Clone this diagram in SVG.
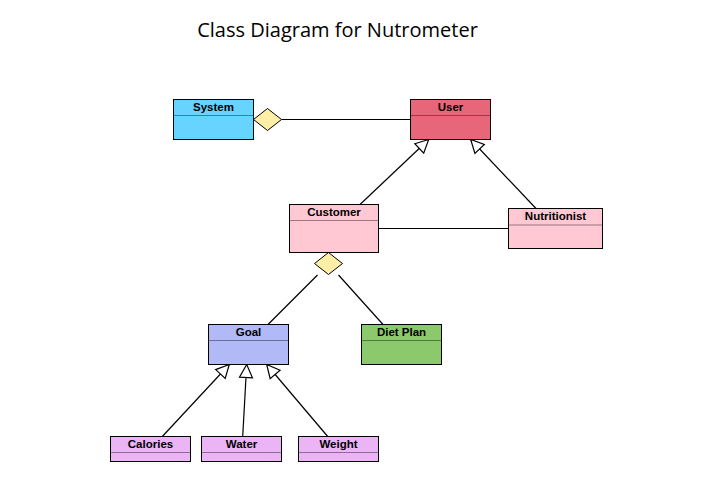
<svg xmlns="http://www.w3.org/2000/svg" width="706" height="477" viewBox="0 0 706 477">
<style>
.box{stroke:#000;stroke-width:1}
.name{font-family:"Liberation Sans",Arial,sans-serif;font-weight:bold;font-size:11.5px;text-anchor:middle;fill:#000}
.title{font-family:"Open Sans",sans-serif;font-size:20px;text-anchor:middle;fill:#000}
.conn line{stroke:#000;stroke-width:1.2;fill:none}
.gen{marker-end:url(#tri)}
.dia{fill:#FFEFA6;stroke:#000;stroke-width:1}
</style>
<defs>
<marker id="tri" markerUnits="userSpaceOnUse" markerWidth="16" markerHeight="16" viewBox="-14 -8 16 16" refX="0" refY="0" orient="auto">
<path d="M0,0 L-13,-6.5 L-13,6.5 Z" fill="#fff" stroke="#000" stroke-width="1.2"/>
</marker>
</defs>
<rect width="706" height="477" fill="#fff"/>
<text class="title" x="337.5" y="36.5">Class Diagram for Nutrometer</text>
<g id="connectors" class="conn">
<line x1="281.5" y1="119.5" x2="410.5" y2="119.5"/>
<line class="gen" x1="360" y1="204.5" x2="428.7" y2="139.5"/>
<line class="gen" x1="536" y1="208.5" x2="470.7" y2="139.5"/>
<line x1="378.5" y1="228.5" x2="508.5" y2="228.5"/>
<line x1="317.5" y1="275" x2="268" y2="324.5"/>
<line x1="338.5" y1="275" x2="383" y2="324.5"/>
<line class="gen" x1="162.3" y1="436.5" x2="229.3" y2="364.5"/>
<line class="gen" x1="242.7" y1="436.5" x2="246.7" y2="364.5"/>
<line class="gen" x1="327.7" y1="436.5" x2="266.7" y2="364.5"/>
<polygon class="dia" points="253.5,119.5 267.5,108.5 281.5,119.5 267.5,130.5"/>
<polygon class="dia" points="314.5,263.5 328.5,252.5 342.5,263.5 328.5,274.5"/>
</g>
<g id="System">
<rect class="box" x="173.5" y="99.5" width="80" height="40" fill="#66D4FF"/>
<line x1="174" y1="115.5" x2="253" y2="115.5" stroke="#3F7F99" stroke-width="1"/>
<text class="name" x="213.5" y="111">System</text>
</g>
<g id="User">
<rect class="box" x="410.5" y="99.5" width="80" height="40" fill="#E8667A"/>
<line x1="411" y1="115.5" x2="490" y2="115.5" stroke="#8C3D49" stroke-width="1"/>
<text class="name" x="450.5" y="111">User</text>
</g>
<g id="Customer">
<rect class="box" x="289.5" y="204.5" width="89" height="48" fill="#FFC8D3"/>
<line x1="290" y1="220.5" x2="378" y2="220.5" stroke="#99787E" stroke-width="1"/>
<text class="name" x="334" y="216">Customer</text>
</g>
<g id="Nutritionist">
<rect class="box" x="508.5" y="208.5" width="94" height="40" fill="#FFC8D3"/>
<line x1="509" y1="225" x2="602" y2="225" stroke="#99787E" stroke-width="1"/>
<text class="name" x="555.5" y="219.5">Nutritionist</text>
</g>
<g id="Goal">
<rect class="box" x="208.5" y="324.5" width="80" height="40" fill="#B1B9F7"/>
<line x1="209" y1="340.5" x2="288" y2="340.5" stroke="#6A6F94" stroke-width="1"/>
<text class="name" x="248.5" y="336">Goal</text>
</g>
<g id="DietPlan">
<rect class="box" x="361.5" y="324.5" width="80" height="40" fill="#8CC86C"/>
<line x1="362" y1="340.5" x2="441" y2="340.5" stroke="#547841" stroke-width="1"/>
<text class="name" x="401.5" y="336">Diet Plan</text>
</g>
<g id="Calories">
<rect class="box" x="110.5" y="436.5" width="80" height="25" fill="#EBB4F5"/>
<line x1="111" y1="452.5" x2="190" y2="452.5" stroke="#8D6C93" stroke-width="1"/>
<text class="name" x="150.5" y="448">Calories</text>
</g>
<g id="Water">
<rect class="box" x="201.5" y="436.5" width="80" height="25" fill="#EBB4F5"/>
<line x1="202" y1="452.5" x2="281" y2="452.5" stroke="#8D6C93" stroke-width="1"/>
<text class="name" x="241.5" y="448">Water</text>
</g>
<g id="Weight">
<rect class="box" x="298.5" y="436.5" width="80" height="25" fill="#EBB4F5"/>
<line x1="299" y1="452.5" x2="378" y2="452.5" stroke="#8D6C93" stroke-width="1"/>
<text class="name" x="338.5" y="448">Weight</text>
</g>
</svg>
